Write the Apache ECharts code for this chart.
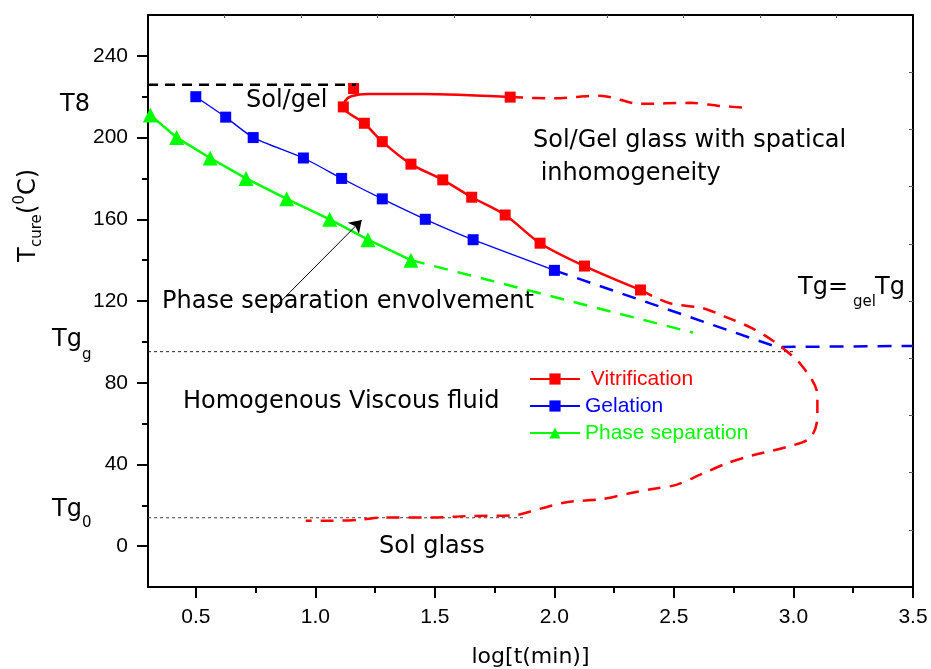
<!DOCTYPE html>
<html>
<head>
<meta charset="utf-8">
<script src="https://cdn.jsdelivr.net/npm/echarts@6/dist/echarts.min.js"></script>
<style>
  html, body { margin: 0; padding: 0; background: #fff; }
  #main { width: 931px; height: 669px; }
</style>
</head>
<body>
<div id="main"></div>
<script>
// axis ticks
var xLabels = [0.5, 1.0, 1.5, 2.0, 2.5, 3.0, 3.5];
var xMinor = [0.75, 1.25, 1.75, 2.25, 2.75, 3.25];
var xTop = [0.62, 0.94, 1.26, 1.58, 1.9, 2.22, 2.54, 2.86, 3.18];
var yLabels = [0, 40, 80, 120, 160, 200, 240];
var yMinor = [20, 60, 100, 140, 180, 220];
var yRight = [8, 36, 64, 92, 120, 148, 176, 204, 232];

// vitrification (red) - solid part with loop, markers on real points only
var vitrSolid = [
  [1.815, 219.8, 1], [1.45, 221.3, 0], [1.22, 221.3, 0], [1.15, 220.2, 0], [1.125, 218, 0],
  [1.117, 215, 1], [1.205, 207, 1], [1.28, 198, 1], [1.40, 187, 1],
  [1.533, 179.3, 1], [1.654, 170.8, 1], [1.794, 162.1, 1], [1.94, 148.3, 1],
  [2.126, 137.1, 1], [2.36, 125.4, 1]
];
var vitrTop = [[1.16, 224]];
var vitrUpper = [[1.815, 219.8], [2.0, 219.2], [2.19, 220.5], [2.36, 216.5], [2.57, 217], [2.69, 215.5], [2.82, 214.5]];
var vitrLower = [
  [2.36, 125.4], [2.48, 119], [2.62, 116.5], [2.71, 112.5], [2.83, 106.5], [2.92, 100],
  [3.03, 89], [3.1, 74], [3.1, 63], [3.07, 53], [2.97, 48.5], [2.83, 44.5], [2.72, 40.5],
  [2.61, 35], [2.51, 30], [2.41, 28], [2.32, 26], [2.2, 23], [2.05, 21.5], [1.9, 17],
  [1.84, 15.2], [1.63, 14.7], [1.49, 14], [1.28, 14], [1.19, 13], [1.07, 12.4], [0.96, 12.4]
];

// gelation (blue)
var gelSolid = [[0.5, 220], [0.625, 210], [0.74, 200], [0.95, 190], [1.11, 180], [1.28, 170], [1.46, 160], [1.66, 150], [2.0, 135]];
var gelDash = [[2.0, 135], [2.93, 97.5], [3.5, 98]];

// phase separation (green)
var phaseSolid = [[0.31, 211], [0.42, 200], [0.56, 190], [0.71, 180], [0.88, 170], [1.06, 160], [1.22, 150], [1.4, 140]];
var phaseDash = [[1.4, 140], [2.58, 104.5]];

// reference lines
var solGelLine = [[0.3, 225.8], [1.17, 225.8]];
var tggLine = [[0.3, 95.2], [3.0, 95.2]];
var tg0Line = [[0.3, 13.9], [1.88, 13.9]];
var arrowFrom = [0.836, 117.5];
var arrowTo = [1.194, 159.7];

var RED = '#ff0000', BLUE = '#0000ff', GREEN = '#00ff00';
var ann = '24px "DejaVu Sans"';
var sub = '15px "DejaVu Sans"';

function txt(x, y, s, font, color) {
  return { type: 'text', x: x, y: y, silent: true,
    style: { text: s, font: font, fill: color || '#000', align: 'left', verticalAlign: 'middle' } };
}

var option = {
  animation: false,
  backgroundColor: '#fff',
  textStyle: { fontFamily: '"Liberation Sans", Arial' },
  grid: { left: 148, right: 18, top: 15, bottom: 82, outerBoundsMode: 'none' },
  legend: {
    orient: 'vertical',
    left: 524, top: 363,
    itemWidth: 50, itemHeight: 14, itemGap: 5,
    textStyle: { fontSize: 21, lineHeight: 22, fontFamily: '"Liberation Sans", Arial' },
    data: [
      { name: ' Vitrification', textStyle: { color: RED } },
      { name: 'Gelation', textStyle: { color: BLUE } },
      { name: 'Phase separation', textStyle: { color: GREEN } }
    ]
  },
  xAxis: [{
    type: 'value', min: 0.3, max: 3.5, position: 'bottom',
    name: 'log[t(min)]', nameLocation: 'middle', nameGap: 59,
    nameTextStyle: { fontSize: 22, color: '#000', fontFamily: '"DejaVu Sans"' },
    axisLine: { onZero: false, lineStyle: { color: '#000', width: 2 } },
    axisTick: { customValues: xLabels, length: 11, lineStyle: { color: '#000', width: 2 } },
    axisLabel: { customValues: xLabels, color: '#000', fontSize: 21, margin: 20,
      formatter: function (v) { return v.toFixed(1); } },
    splitLine: { show: false }
  }, {
    type: 'value', min: 0.3, max: 3.5, position: 'bottom',
    axisLine: { show: false, onZero: false },
    axisTick: { customValues: xMinor, length: 6, lineStyle: { color: '#000', width: 2 } },
    axisLabel: { show: false }, splitLine: { show: false }
  }, {
    type: 'value', min: 0.3, max: 3.5, position: 'top',
    axisLine: { onZero: false, lineStyle: { color: '#000', width: 2 } },
    axisTick: { customValues: xTop, inside: true, length: 3, lineStyle: { color: '#555', width: 1 } },
    axisLabel: { show: false }, splitLine: { show: false }
  }],
  yAxis: [{
    type: 'value', min: -20, max: 260, position: 'left',
    axisLine: { show: true, onZero: false, lineStyle: { color: '#000', width: 2 } },
    axisTick: { show: true, customValues: yLabels, length: 11, lineStyle: { color: '#000', width: 2 } },
    axisLabel: { customValues: yLabels, color: '#000', fontSize: 21, margin: 20 },
    splitLine: { show: false }
  }, {
    type: 'value', min: -20, max: 260, position: 'left',
    axisLine: { show: false, onZero: false },
    axisTick: { show: true, customValues: yMinor, length: 6, lineStyle: { color: '#000', width: 2 } },
    axisLabel: { show: false }, splitLine: { show: false }
  }, {
    type: 'value', min: -20, max: 260, position: 'right',
    axisLine: { show: true, onZero: false, lineStyle: { color: '#000', width: 2 } },
    axisTick: { show: true, customValues: yRight, inside: true, length: 4, lineStyle: { color: '#555', width: 1 } },
    axisLabel: { show: false }, splitLine: { show: false }
  }],
  series: [
    // dashed reference lines
    { type: 'line', data: solGelLine, symbol: 'none', silent: true,
      lineStyle: { color: '#000', width: 2.5, type: [10, 7] } },
    { type: 'line', data: tggLine, symbol: 'none', silent: true,
      lineStyle: { color: '#222', width: 1, type: [3, 3] } },
    { type: 'line', data: tg0Line, symbol: 'none', silent: true,
      lineStyle: { color: '#444', width: 1, type: [3, 3] },
      markLine: {
        silent: true, symbol: ['none', 'arrow'], symbolSize: 12,
        label: { show: false },
        lineStyle: { color: '#000', width: 1, type: 'solid' },
        data: [[{ coord: arrowFrom }, { coord: arrowTo }]]
      } },
    // phase separation
    { type: 'line', data: phaseDash, symbol: 'none', silent: true,
      lineStyle: { color: GREEN, width: 2.5, type: [14, 10] } },
    { name: 'Phase separation', type: 'line', data: phaseSolid,
      symbol: 'triangle', symbolSize: 15,
      itemStyle: { color: GREEN }, lineStyle: { color: GREEN, width: 2.5 } },
    // gelation
    { type: 'line', data: gelDash, symbol: 'none', silent: true,
      lineStyle: { color: BLUE, width: 2.5, type: [14, 10] } },
    { name: 'Gelation', type: 'line', data: gelSolid, smooth: 0.2,
      symbol: 'rect', symbolSize: 11,
      itemStyle: { color: BLUE }, lineStyle: { color: BLUE, width: 1.3 } },
    // vitrification
    { type: 'line', data: vitrUpper, symbol: 'none', silent: true, smooth: 0.3,
      lineStyle: { color: RED, width: 2.5, type: [13, 9] } },
    { type: 'line', data: vitrLower, symbol: 'none', silent: true, smooth: 0.3,
      lineStyle: { color: RED, width: 2.5, type: [13, 9] } },
    { name: ' Vitrification', type: 'line', smooth: 0.3,
      data: vitrSolid.map(function (p) {
        return { value: [p[0], p[1]], symbol: p[2] ? 'rect' : 'none' };
      }),
      symbol: 'rect', symbolSize: 11,
      itemStyle: { color: RED }, lineStyle: { color: RED, width: 2.5 } },
    { type: 'scatter', data: vitrTop, symbol: 'rect', symbolSize: 11,
      itemStyle: { color: RED, opacity: 1 }, silent: true }
  ],
  graphic: [
    txt(246, 101, 'Sol/gel', ann),
    txt(533, 141, 'Sol/Gel glass with spatical', ann),
    txt(533, 174, ' inhomogeneity', ann),
    txt(162, 302, 'Phase separation envolvement', ann),
    txt(183, 402, 'Homogenous Viscous fluid', ann),
    txt(379, 547, 'Sol glass', ann),
    txt(60, 105, 'T8', ann),
    txt(52, 340, 'Tg', ann), txt(82, 355, 'g', sub),
    txt(52, 510, 'Tg', ann), txt(82, 523, '0', sub),
    txt(798, 288, 'Tg=', ann), txt(853, 302, 'gel', sub), txt(875, 288, 'Tg', ann),
    {
      type: 'group', x: 29, y: 262, rotation: Math.PI / 2, silent: true,
      children: [
        txt(0, 0, 'T', ann),
        txt(15, 8, 'cure', sub),
        txt(48, 0, '(', ann),
        txt(57.5, -9, '0', sub),
        txt(67, 0, 'C)', ann)
      ]
    }
  ]
};

echarts.init(document.getElementById('main')).setOption(option);
</script>
</body>
</html>
